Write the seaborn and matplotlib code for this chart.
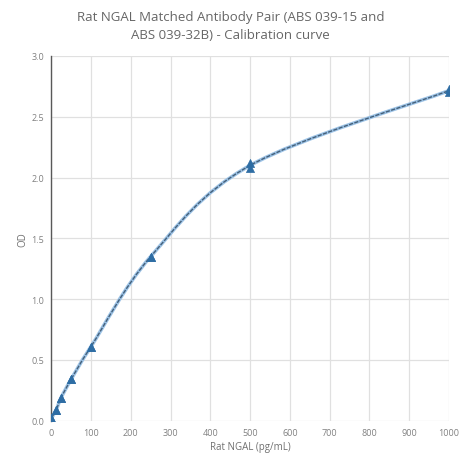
import numpy as np
import pandas as pd
import matplotlib
matplotlib.use("Agg")
import matplotlib.pyplot as plt
import seaborn as sns
from matplotlib.path import Path
from matplotlib.patches import PathPatch

# calibration standards (pg/mL) and OD readings, two replicates
conc = [0, 12.5, 25, 50, 100, 250, 500, 1000]
od_rep1 = [0.02, 0.09, 0.19, 0.34, 0.61, 1.35, 2.08, 2.70]
od_rep2 = [0.02, 0.09, 0.19, 0.34, 0.61, 1.35, 2.12, 2.73]

x_ticks = [0, 100, 200, 300, 400, 500, 600, 700, 800, 900, 1000]
y_ticks = [0.0, 0.5, 1.0, 1.5, 2.0, 2.5, 3.0]

title = "Rat NGAL Matched Antibody Pair (ABS 039-15 and\nABS 039-32B) - Calibration curve"

df = pd.DataFrame({
    "conc": conc * 2,
    "od": od_rep1 + od_rep2,
})
mean_od = [(a + b) / 2 for a, b in zip(od_rep1, od_rep2)]

sns.set_theme(style="white")
plt.rcParams["font.family"] = ["Open Sans", "DejaVu Sans"]

fig = plt.figure(figsize=(4.61, 4.56), dpi=100)
ax = fig.add_axes([0.111, 0.075, 0.863, 0.800])

# smoothed line (Excel-style) drawn as bezier segments through the points
pts = np.array(list(zip(conc, mean_od)))
verts = [pts[0]]
codes = [Path.MOVETO]
for i in range(len(pts) - 1):
    p0 = pts[i - 1] if i > 0 else pts[i]
    p1 = pts[i]
    p2 = pts[i + 1]
    p3 = pts[i + 2] if i + 2 < len(pts) else pts[i + 1]
    c1 = p1 + (p2 - p0) / 6.0
    c2 = p2 - (p3 - p1) / 6.0
    verts += [c1, c2, p2]
    codes += [Path.CURVE4] * 3
ax.add_patch(PathPatch(Path(verts, codes), facecolor="none",
                       edgecolor="#9DC3E6", lw=2.6, zorder=2))
ax.add_patch(PathPatch(Path(verts, codes), facecolor="none",
                       edgecolor="#44607A", lw=1.0, ls=(0, (3, 1)), zorder=3))

sns.scatterplot(data=df, x="conc", y="od", marker="^", s=34,
                color="#2E6DA4", edgecolor="#2E6DA4", linewidth=0.5,
                ax=ax, zorder=4, legend=False)

ax.set_xlim(0, 1000)
ax.set_ylim(0, 3.0)
ax.set_xticks(x_ticks)
ax.set_yticks(y_ticks)
ax.set_yticklabels([f"{v:.1f}" for v in y_ticks])
ax.grid(True, color="#E0E0E0", lw=0.9)
ax.set_axisbelow(True)
for s in ["top", "right", "bottom"]:
    ax.spines[s].set_visible(False)
ax.spines["left"].set_color("#595959")
ax.spines["left"].set_linewidth(1.0)
ax.tick_params(axis="both", labelsize=6.5, colors="#808080", length=0, pad=5)

ax.set_xlabel("Rat NGAL (pg/mL)", fontsize=7, color="#707070", labelpad=3)
ax.set_ylabel("OD", fontsize=7, color="#707070", labelpad=2)
fig.suptitle(title, fontsize=9.5, color="#666666", y=0.975, linespacing=1.5)

fig.savefig("out.png", dpi=100)
